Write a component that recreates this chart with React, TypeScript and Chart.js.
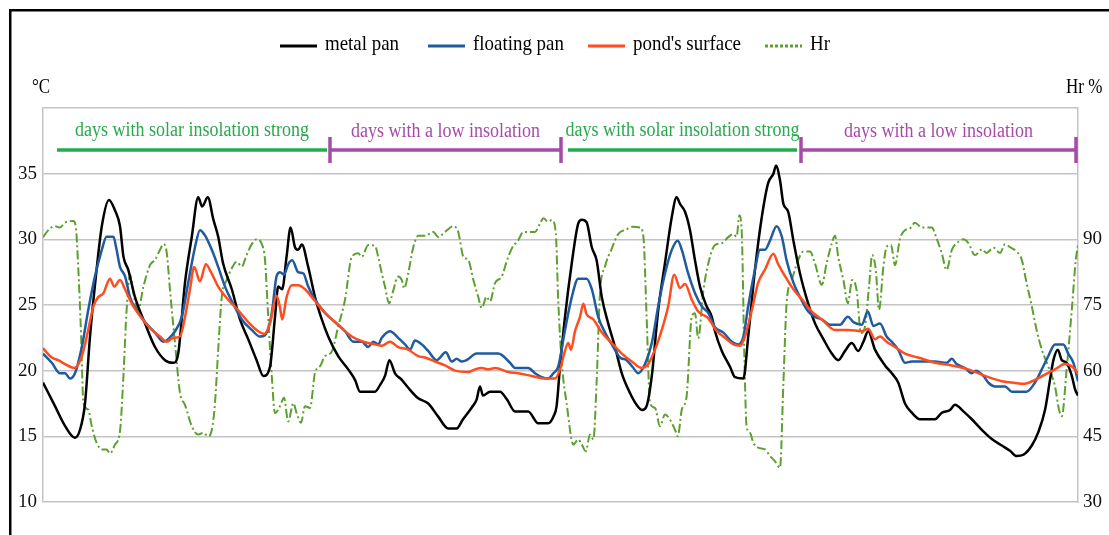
import React, { useEffect, useRef } from 'react';
import { Chart, registerables } from 'chart.js';

Chart.register(...registerables);

// time axis in hours (approx.)
const metalPan: [number, number][] = [
  [0,19.1],[3,17.3],[5.5,15.8],[8,14.9],[9.25,15.5],[10.5,17.5],[11.75,22.6],[13.4,27.7],[14.7,31.0],[16.5,33.0],[18,32.2],[19.25,31.0],[20.1,28.7],[21.3,27.7],[23,25.6],[25.5,23.6],[28,21.8],[30.5,20.8],[32.6,20.6],[33.8,21.3],[35.5,26.7],[37.2,30.2],[38.8,33.2],[39.8,32.5],[41.2,33.2],[42.6,31.5],[43.8,30.2],[45,28.2],[47.2,26.2],[49.25,23.9],[51.3,22.4],[53.4,20.8],[55.1,19.6],[56.75,20.3],[58,24.1],[58.8,26.4],[59.8,26.2],[60.9,28.7],[61.9,30.9],[63,29.4],[63.8,29.2],[64.7,29.6],[66.3,27.9],[68,25.6],[69.7,23.9],[71.3,22.6],[73.8,21.1],[76.3,20.1],[78,19.3],[79.25,18.4],[83,18.4],[84.25,18.9],[85.5,19.6],[86.6,20.8],[88,19.8],[89.7,19.3],[91.3,18.7],[93.8,17.9],[96.3,17.5],[98.8,16.5],[101.3,15.6],[103.4,15.6],[105,16.3],[107.2,17.2],[108.4,17.8],[109.25,18.8],[110,18.1],[111.75,18.4],[114.25,18.4],[116,17.8],[118,16.9],[121.3,16.9],[123.8,16.0],[126.3,16.0],[127.6,16.5],[128.4,17.3],[129.25,20.3],[130.5,24.1],[132.2,28.2],[133.8,31.2],[134.7,31.5],[135.9,31.3],[137.2,29.4],[138.4,28.4],[139.7,25.6],[141.3,23.6],[143,21.8],[144.7,19.8],[146.75,18.3],[148.4,17.4],[149.8,17.0],[150.9,17.3],[152.2,19.6],[153.8,24.6],[155.5,28.2],[157.2,31.7],[158.4,33.2],[159.25,32.7],[160.5,32.1],[161.75,30.7],[163,28.4],[164.25,26.4],[165.9,24.9],[167.2,24.1],[168,23.0],[169.7,21.5],[171.75,20.3],[173,19.5],[175.1,19.4],[176.3,22.6],[178,27.7],[179.7,31.7],[181.3,34.3],[182.6,35.0],[183.25,35.6],[184.25,34.5],[185.1,32.7],[186.3,32.1],[187.6,29.9],[189.25,27.4],[191.3,25.1],[193,23.6],[195.1,22.4],[197.2,21.3],[198.8,20.8],[200.5,21.5],[202.2,22.1],[203.8,21.5],[205.1,22.2],[206.3,23.0],[208,21.6],[210.5,20.4],[212.2,19.8],[213.8,19.1],[215.5,17.5],[217.2,16.8],[219.25,16.3],[223,16.3],[224.7,16.8],[226.75,17.0],[228,17.4],[230.1,16.9],[232.2,16.3],[234.7,15.5],[237.2,14.8],[239.7,14.3],[241.75,13.9],[243.4,13.5],[245.1,13.6],[247.2,14.3],[248.8,15.3],[250.5,17.0],[251.75,19.3],[252.6,20.8],[253.7,21.6],[254.7,20.8],[255.9,20.6],[257.2,19.6],[258,18.6],[258.75,18.1]
];

const floatingPan: [number, number][] = [
  [0,21.3],[2.2,20.6],[4.25,19.8],[5.5,19.8],[6.75,19.4],[8,19.8],[9.7,21.8],[11.3,24.6],[13,27.2],[14.7,29.2],[15.9,30.2],[17.6,30.2],[18.4,29.2],[19.25,27.9],[20.5,27.2],[21.75,25.6],[23.4,24.6],[25.5,23.7],[28,22.9],[30.1,22.2],[31.3,22.4],[33,23.0],[34.7,24.1],[36.3,26.7],[38,29.4],[39.25,30.7],[40.5,30.3],[42.2,29.2],[43.8,27.9],[45.5,26.4],[47.2,25.3],[49.7,23.9],[52.2,23.1],[54.25,22.6],[55.5,22.7],[57.2,24.4],[58.4,27.2],[59.25,27.5],[60.25,27.3],[61.3,28.1],[62.3,28.4],[63.8,27.5],[65.1,27.4],[66.3,26.4],[68,25.4],[70.5,24.4],[73,23.7],[75.5,23.0],[77.6,22.2],[79.7,22.2],[81.3,21.8],[82.6,22.2],[83.8,22.0],[84.7,22.5],[86.75,23.0],[88.8,22.5],[90.5,22.0],[91.75,21.6],[93,22.3],[94.7,22.0],[96.3,21.5],[98.4,20.8],[100.7,21.4],[102.2,20.7],[103.4,20.9],[104.7,20.7],[105.9,20.8],[108.4,21.3],[113.8,21.3],[116.75,20.6],[118,20.2],[121.3,20.2],[123,19.8],[124.7,19.5],[126.3,19.4],[127.6,19.8],[128.8,20.3],[130.5,23.1],[132.2,25.6],[133.8,27.0],[135.9,27.0],[137.2,26.2],[138.8,24.1],[140.5,22.9],[142.2,22.0],[144.25,21.0],[145.9,20.8],[147.6,20.2],[148.8,19.8],[150.5,20.5],[152.2,22.1],[153.8,24.9],[155.5,27.4],[157.2,29.2],[158.7,29.9],[159.7,29.2],[161.3,27.4],[163,25.9],[164.7,24.9],[166.3,24.4],[168,23.3],[170.1,22.9],[172.2,22.2],[173.8,22.0],[175.1,22.6],[176.3,24.9],[178,27.7],[179.25,29.2],[180.5,29.2],[181.75,29.9],[183.4,31.0],[184.7,30.2],[185.9,28.4],[187.6,26.7],[189.25,25.6],[191.3,24.5],[193,24.1],[194.7,23.9],[196.75,23.5],[199.25,23.5],[201.2,24.1],[202.6,23.7],[204.7,23.5],[206.2,24.5],[207.6,23.4],[209.25,23.6],[210.9,22.6],[212.2,22.2],[213.8,21.6],[215.5,20.6],[217.2,20.7],[223,20.7],[225.9,20.6],[227.2,20.9],[228.4,20.5],[230.5,20.2],[232.2,19.8],[233.2,20.0],[235.1,19.6],[236.3,19.1],[238,18.8],[240.5,18.8],[242.2,18.4],[245.9,18.4],[248,19.1],[249.7,20.1],[251.3,21.1],[253,22.0],[255.1,22.0],[256.3,21.3],[257.6,20.6],[258.75,19.2]
];

const pondSurface: [number, number][] = [
  [0,21.7],[2.2,21.0],[3.8,20.8],[5.5,20.5],[7.8,20.2],[9.7,21.1],[11.3,23.1],[12.6,24.9],[13.8,25.6],[15.1,25.9],[16.75,27.0],[17.8,26.4],[19.25,26.9],[20.5,26.2],[22.2,25.1],[24.7,24.0],[27.2,23.1],[29.25,22.6],[30.9,22.2],[32.6,22.5],[34.25,22.6],[35.5,24.1],[36.75,26.2],[37.8,27.9],[39.25,26.8],[40.7,28.1],[42,27.5],[43.8,26.4],[46.3,25.4],[48.8,24.6],[51.3,23.7],[53.8,23.0],[55.3,22.8],[56.75,23.6],[58.4,25.7],[59.25,24.8],[59.8,23.9],[60.9,25.6],[62.2,26.5],[63.8,26.5],[65.5,26.2],[68,25.3],[70.5,24.4],[73.8,23.5],[77.2,22.6],[80.1,22.2],[83,22.0],[84.7,21.9],[86.75,22.2],[88.8,21.8],[91.3,21.6],[93.8,21.1],[95.5,21.0],[98,20.7],[100.5,20.4],[103,20.0],[106.3,19.9],[108,20.1],[109.7,20.2],[111.3,20.1],[113,20.2],[116.3,19.9],[118.8,19.8],[122.2,19.6],[125.5,19.4],[128,19.4],[129.25,20.1],[130.3,21.3],[131.3,22.1],[132,21.6],[133,23.0],[134.25,24.1],[135.1,25.1],[135.9,24.3],[137.6,23.9],[139.7,22.9],[142.2,22.1],[144.7,21.3],[147.2,20.7],[149.7,20.2],[151.3,20.5],[153,21.6],[154.7,23.1],[156.3,24.9],[157.8,27.3],[159.25,26.3],[160.5,26.6],[162.2,25.4],[163.8,24.5],[166.3,24.0],[168.2,23.1],[170.5,22.5],[172.6,22.0],[174.25,21.9],[175.5,22.6],[177.2,24.6],[178.8,26.7],[180.5,27.7],[182.6,28.9],[183.8,28.1],[185.5,27.2],[187.6,26.2],[190.1,25.3],[192.2,24.5],[194.7,23.9],[198,23.1],[201.3,23.1],[204.7,23.0],[206.3,23.2],[208,22.4],[209.25,22.6],[210.9,22.2],[213,21.8],[215.5,21.3],[218.8,21.0],[223,20.6],[227.2,20.4],[231.3,20.1],[235.5,19.6],[239.7,19.2],[242.2,19.1],[245.5,19.0],[248,19.3],[250.5,19.7],[253,20.1],[255.5,20.5],[256.75,20.4],[258,20.1],[258.75,19.8]
];

const humidity: [number, number][] = [
  [0,90.5],[1.75,92.5],[3,93.0],[4.25,92.7],[5.5,93.8],[7.6,94.2],[8.2,92.9],[8.8,83.8],[9.5,68.6],[10.1,52.6],[11.3,51.1],[12.2,47.3],[13.4,43.5],[14.7,42.0],[15.9,42.0],[16.75,41.1],[18,43.1],[19.25,46.2],[20.1,58.7],[20.9,73.9],[21.75,81.9],[22.6,77.7],[23.8,73.9],[25.1,79.2],[26.75,84.1],[28,85.3],[29.25,87.6],[30.1,88.9],[30.9,87.2],[31.75,78.4],[33,66.3],[34.25,54.9],[35.5,52.2],[37.2,47.3],[38.8,45.4],[40.1,45.8],[41.3,45.0],[42.2,46.5],[43,52.6],[43.8,64.8],[44.7,76.9],[45.9,80.7],[47.2,83.4],[48.4,84.9],[49.7,83.8],[50.9,86.4],[52.2,88.9],[53.4,90.0],[54.7,88.9],[55.5,85.3],[56.3,72.4],[57.2,58.7],[58,50.3],[59.25,51.9],[60.25,53.8],[61.3,48.4],[62.6,52.6],[63.4,50.3],[64.5,48.1],[65.5,51.9],[66.75,51.5],[68,59.5],[69.25,61.0],[70.5,63.3],[72.2,64.4],[73.8,70.1],[75.5,76.2],[77.2,86.0],[78.8,86.8],[79.7,86.0],[81.3,88.7],[83,88.5],[83.8,86.0],[84.7,82.2],[85.5,79.2],[86.5,75.4],[87.6,78.4],[88.7,81.5],[89.7,80.7],[90.3,78.8],[91.3,82.2],[92.6,88.3],[93.8,90.8],[95.5,90.8],[97.6,91.7],[98.8,90.5],[100.5,91.7],[102.6,93.0],[103.8,91.7],[105.1,86.0],[106.3,85.3],[107.6,80.7],[108.8,76.9],[109.7,74.3],[110.9,76.9],[111.75,75.8],[113,80.0],[114.7,81.5],[115.9,84.9],[117.2,87.9],[118.8,89.8],[120.1,91.7],[123,91.7],[124.25,93.6],[125.1,94.8],[126.3,94.0],[127.2,94.4],[128.2,91.4],[128.8,76.2],[129.7,61.7],[130.9,52.6],[132.6,43.1],[133.8,44.3],[134.7,43.1],[135.7,41.6],[136.75,45.4],[137.6,44.3],[138.4,57.2],[139.25,77.7],[140.5,83.8],[142.2,87.9],[143.8,91.2],[145.9,92.3],[147.6,92.9],[149.25,92.7],[150.1,90.6],[150.9,72.4],[151.75,52.6],[153,51.5],[154.25,47.3],[155.5,50.0],[156.75,48.8],[158,46.5],[158.7,45.0],[159.7,51.1],[160.9,54.1],[162.2,72.4],[163,73.1],[163.8,67.4],[165.1,78.4],[166.75,86.0],[168,88.7],[169.7,89.1],[171.3,90.5],[172.6,91.2],[173.4,90.6],[174.1,95.5],[174.7,91.4],[175.3,64.8],[175.9,47.3],[176.75,45.8],[177.6,43.5],[178.8,42.4],[180.5,42.0],[181.75,40.5],[183,39.3],[184.25,37.8],[185.1,57.2],[185.9,75.4],[187.2,80.7],[188.8,85.3],[190.1,87.2],[191.75,87.2],[193,84.5],[194.7,79.6],[195.9,84.5],[197.2,89.1],[198,90.8],[198.8,86.0],[200.1,80.7],[201.2,75.4],[202.3,80.7],[203.4,78.4],[204.5,68.6],[205.5,70.1],[206.5,79.2],[207.3,86.4],[208.2,83.0],[209,73.9],[210.1,83.8],[210.9,88.3],[212,88.7],[213,84.1],[214.25,90.2],[215.5,92.1],[216.75,92.5],[218,93.8],[219.7,92.7],[222.2,92.7],[223.4,90.2],[224.7,86.8],[225.9,83.0],[227.2,87.6],[228.4,89.1],[230.1,90.0],[231.3,89.2],[233,86.4],[234.7,87.7],[235.9,86.9],[237.6,88.1],[239.25,86.9],[240.5,88.9],[241.75,88.2],[243.4,87.2],[244.7,85.3],[245.9,80.0],[247.2,74.7],[248.4,69.3],[249.7,64.8],[251.3,61.0],[253,56.4],[254,51.1],[254.7,49.6],[255.9,60.2],[257.2,73.9],[258.2,85.3],[258.75,88.7]
];

const seriesNames = ['metal pan', 'floating pan', "pond's surface", 'Hr'];
const seriesColors = ['#000000', '#1F5B9E', '#FF4D1F', '#5DA02E'];

const periodLabels = ['days with solar insolation strong', 'days with a low insolation', 'days with solar insolation strong', 'days with a low insolation'];
const periodKinds = ['strong', 'low', 'strong', 'low'];
const periodStart = [3.5, 71.75, 131.25, 189.5];
const periodEnd = [71, 129.5, 188.5, 258.25];

const tempMin = 10, tempMax = 40, tempStep = 5, tempLabelMax = 35;
const hrMin = 30, hrMax = 120, hrStep = 15, hrLabelMax = 90;
const xMax = 258.75;

const SERIF = '"Liberation Serif", "Times New Roman", serif';

function drawText(ctx: CanvasRenderingContext2D, text: string, x: number, y: number, size: number, color: string, sx: number, align: 'left' | 'center' | 'right') {
  ctx.save();
  ctx.font = `${size}px ${SERIF}`;
  ctx.fillStyle = color;
  ctx.textBaseline = 'alphabetic';
  ctx.textAlign = 'left';
  const w = ctx.measureText(text).width * sx;
  const x0 = align === 'center' ? x - w / 2 : align === 'right' ? x - w : x;
  ctx.translate(x0, y);
  ctx.scale(sx, 1);
  ctx.fillText(text, 0, 0);
  ctx.restore();
}

const decor = {
  id: 'decor',
  afterDraw(chart: any) {
    const ctx: CanvasRenderingContext2D = chart.ctx;
    const xs = chart.scales.x;
    // frame
    ctx.save();
    ctx.fillStyle = '#000';
    ctx.fillRect(9, 9, 1100, 2.5);
    ctx.fillRect(9, 9, 2.5, 526);
    ctx.restore();

    // legend
    const legendX = [280, 428, 588, 765];
    seriesNames.forEach((name, i) => {
      const x = legendX[i];
      ctx.save();
      ctx.strokeStyle = seriesColors[i];
      ctx.lineWidth = 3;
      if (i === 3) ctx.setLineDash([3, 2]);
      ctx.beginPath();
      ctx.moveTo(x, 46);
      ctx.lineTo(x + 37, 46);
      ctx.stroke();
      ctx.restore();
      drawText(ctx, name, x + 45, 50, 22, '#000', 0.86, 'left');
    });

    // unit labels
    drawText(ctx, '°C', 32, 93, 20, '#000', 0.85, 'left');
    drawText(ctx, 'Hr %', 1066, 93, 20, '#000', 0.85, 'left');

    // period annotations
    periodLabels.forEach((label, i) => {
      const x1 = xs.getPixelForValue(periodStart[i]);
      const x2 = xs.getPixelForValue(periodEnd[i]);
      const strong = periodKinds[i] === 'strong';
      const col = strong ? '#22AD4B' : '#A64CA8';
      ctx.save();
      ctx.strokeStyle = col;
      ctx.lineWidth = 3.5;
      ctx.beginPath();
      ctx.moveTo(x1, 150);
      ctx.lineTo(x2, 150);
      if (!strong) {
        ctx.moveTo(x1, 137);
        ctx.lineTo(x1, 163);
        ctx.moveTo(x2, 137);
        ctx.lineTo(x2, 163);
      }
      ctx.stroke();
      ctx.restore();
      drawText(ctx, label, (x1 + x2) / 2, strong ? 136 : 137, 20, strong ? '#2BA84E' : '#A64CA8', 0.9, 'center');
    });
  },
};

const toPts = (arr: [number, number][]) => arr.map(([x, y]) => ({ x, y }));

export default function App() {
  const ref = useRef<HTMLCanvasElement>(null);
  useEffect(() => {
    if (!ref.current) return;
    const gridColor = '#C4C4C4';
    const tickFont = { family: SERIF, size: 19 };
    const chart = new Chart(ref.current, {
      type: 'line',
      data: {
        datasets: [
          { label: seriesNames[0], data: toPts(metalPan), borderColor: seriesColors[0], borderWidth: 2.5, yAxisID: 'y', order: 2 },
          { label: seriesNames[1], data: toPts(floatingPan), borderColor: seriesColors[1], borderWidth: 2.5, yAxisID: 'y', order: 1 },
          { label: seriesNames[2], data: toPts(pondSurface), borderColor: seriesColors[2], borderWidth: 2.5, yAxisID: 'y', order: 0 },
          { label: seriesNames[3], data: toPts(humidity), borderColor: seriesColors[3], borderWidth: 2, borderDash: [9, 3, 2, 3], yAxisID: 'y1', order: 3 },
        ],
      },
      options: {
        animation: false,
        responsive: false,
        layout: { padding: { top: 108, bottom: 33, left: 0, right: 0 } },
        elements: { point: { radius: 0 }, line: { cubicInterpolationMode: 'monotone', fill: false } },
        plugins: { legend: { display: false }, tooltip: { enabled: false } },
        scales: {
          x: { type: 'linear', min: 0, max: xMax, display: false },
          y: {
            position: 'left', min: tempMin, max: tempMax,
            ticks: { stepSize: tempStep, font: tickFont, color: '#111', padding: 6, callback: (v: any) => (v > tempLabelMax ? '' : String(v)) },
            grid: { color: gridColor, lineWidth: 1.5, drawTicks: false },
            border: { display: true, color: gridColor, width: 1.5 },
            afterFit: (s: any) => { s.width = 43; },
          },
          y1: {
            position: 'right', min: hrMin, max: hrMax,
            ticks: { stepSize: hrStep, font: tickFont, color: '#111', padding: 5, callback: (v: any) => (v > hrLabelMax ? '' : String(v)) },
            grid: { display: false, drawTicks: false },
            border: { display: true, color: gridColor, width: 1.5 },
            afterFit: (s: any) => { s.width = 31; },
          },
        },
      } as any,
      plugins: [decor],
    });
    return () => chart.destroy();
  }, []);
  return (
    <div style={{ position: 'fixed', left: 0, top: 0, width: 1109, height: 535, background: '#fff' }}>
      <canvas ref={ref} width={1109} height={535} style={{ display: 'block' }} />
    </div>
  );
}
